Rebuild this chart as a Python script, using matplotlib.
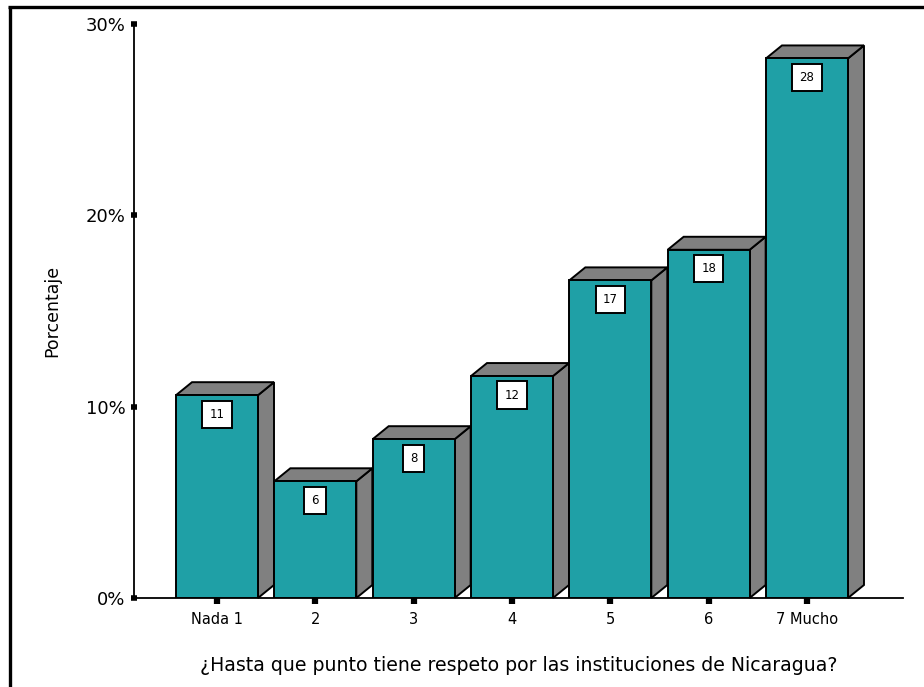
import matplotlib
matplotlib.use("Agg")
import matplotlib.pyplot as plt
from matplotlib.patches import Polygon
from matplotlib.lines import Line2D
import numpy as np

categories = ["Nada 1", "2", "3", "4", "5", "6", "7 Mucho"]
values = [10.6, 6.1, 8.3, 11.6, 16.6, 18.2, 28.2]
labels = ["11", "6", "8", "12", "17", "18", "28"]
yticks = [0, 10, 20, 30]
yticklabels = ["0%", "10%", "20%", "30%"]
xlabel = "¿Hasta que punto tiene respeto por las instituciones de Nicaragua?"
ylabel = "Porcentaje"

FRONT = "#1fa0a6"
SIDE = "#808080"

W, H = 924, 687
fig = plt.figure(figsize=(W / 100, H / 100), dpi=100)
plt.rcParams['font.family'] = ['DejaVu Sans']

ax_l, ax_r, ax_b, ax_t = 134, 903, 598, 24
ax = fig.add_axes([ax_l / W, (H - ax_b) / H, (ax_r - ax_l) / W, (ax_b - ax_t) / H])

spacing_px = 98.33
x = np.arange(len(categories))
ax.set_xlim((ax_l - 217) / spacing_px, (ax_r - 217) / spacing_px)
ax.set_ylim(0, 30)

px_per_x = spacing_px
px_per_y = (ax_b - ax_t) / 30.0
bw = 82 / px_per_x
dx = 16 / px_per_x
dy = 13 / px_per_y

for xi, v, lab in zip(x, values, labels):
    ax.bar(xi, v, width=bw, color=FRONT, edgecolor="black", linewidth=1.4, zorder=3)
    l, r = xi - bw / 2, xi + bw / 2
    side = Polygon([(r, 0), (r, v), (r + dx, v + dy), (r + dx, dy)], closed=True,
                   facecolor=SIDE, edgecolor="black", linewidth=1.4, zorder=2, clip_on=False)
    top = Polygon([(l, v), (l + dx, v + dy), (r + dx, v + dy), (r, v)], closed=True,
                  facecolor=SIDE, edgecolor="black", linewidth=1.4, zorder=2, clip_on=False)
    ax.add_patch(side)
    ax.add_patch(top)
    ax.annotate(lab, xy=(xi, v), xytext=(0, -19), textcoords="offset pixels",
                ha="center", va="center", fontsize=8.5, zorder=5,
                bbox=dict(boxstyle="square,pad=0.6", facecolor="white",
                          edgecolor="black", linewidth=1.4))

for s in ["top", "right"]:
    ax.spines[s].set_visible(False)
for s in ["left", "bottom"]:
    ax.spines[s].set_linewidth(1.3)
    ax.spines[s].set_color("black")
    ax.spines[s].set_zorder(1)

ax.set_xticks(x)
ax.set_xticklabels(categories, fontsize=10.5)
ax.set_yticks(yticks)
ax.set_yticklabels(yticklabels, fontsize=13)
ax.tick_params(axis="x", direction="out", length=4, width=4.5, pad=6)
ax.tick_params(axis="y", direction="inout", length=4, width=4, pad=4)

ax.set_xlabel(xlabel, fontsize=13.6, labelpad=21)
ax.set_ylabel(ylabel, fontsize=12.5, labelpad=18)

ax.patch.set_visible(False)

# outer frame (top and left edges)
fig.add_artist(Line2D([8 / W, 1], [1 - 6.5 / H, 1 - 6.5 / H], color="black", linewidth=2.4,
                      transform=fig.transFigure, solid_capstyle="butt"))
fig.add_artist(Line2D([9.5 / W, 9.5 / W], [0, 1 - 6.5 / H], color="black", linewidth=2.4,
                      transform=fig.transFigure, solid_capstyle="butt"))

fig.savefig("out.png", dpi=100)
